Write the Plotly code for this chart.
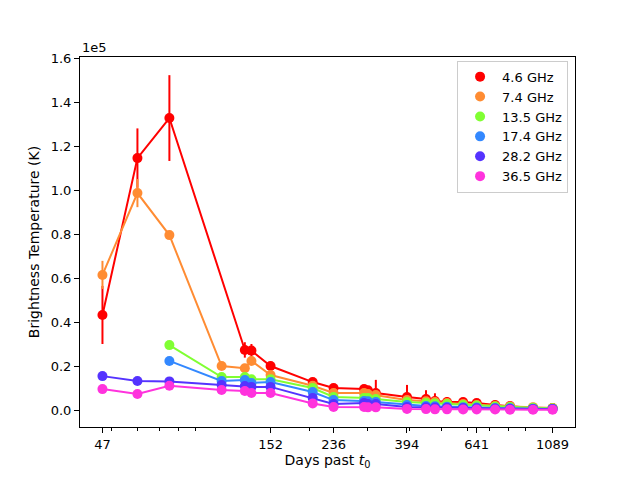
import plotly.graph_objects as go

# dias de observacion
dias = [47, 60, 75, 108, 127, 133, 152, 204, 236, 292, 300, 317,
        394, 450, 479, 521, 583, 641, 729, 809, 950, 1089]

frecuencias = ["4.6 GHz", "7.4 GHz", "13.5 GHz", "17.4 GHz", "28.2 GHz", "36.5 GHz"]
colores = ["#ff0000", "#ff8c33", "#80ff33", "#3388ff", "#5533ff", "#ff33dd"]

# temperatura de brillo (K), None = sin dato
t_46 = [43200, 114500, 132700, None, 27300, 27000, 20000, 12700, 10000, 9500, 9000, 7700,
        5900, 5000, 4100, 3600, 3600, 3200, 2300, 1800, 900, 900]
e_46 = [13200, 13500, 19500, 0, 3500, 3000, 2000, 1500, 1200, 1000, 1000, 6000,
        5500, 4000, 3500, 2300, 1000, 800, 500, 500, 300, 300]

t_74 = [61400, 98600, 79500, 20000, 19000, 22300, 15900, 11000, 7700, 7700, 7300, 6800,
        4500, 4000, 3600, 3200, 2700, 2300, 1800, 1600, 1300, 900]
e_74 = [6400, 6400, 0, 0, 0, 0, 0, 0, 0, 0, 0, 0,
        0, 0, 0, 0, 0, 0, 0, 0, 0, 0]

t_135 = [None, None, 29500, 15000, 15000, 14000, 14000, 10000, 5900, 5500, 5400, 5000,
         3600, 3200, 3000, 2700, 2300, 2000, 1600, 1400, 1000, 800]
t_174 = [None, None, 22300, 13200, 13600, 12300, 12700, 8200, 4500, 4100, 4000, 3600,
         2300, 1800, 1700, 1500, 1300, 1100, 900, 800, 600, 500]
t_282 = [15400, 13200, 13000, 11400, 10900, 10500, 10500, 5500, 2700, 3200, 2700, 2700,
         1400, 1200, 1100, 1000, 900, 800, 700, 600, 500, 400]
t_365 = [9500, 7300, 11000, 9100, 8600, 7700, 7700, 3000, 1400, 1400, 1200, 1200,
         500, 400, 300, 300, 200, 200, 200, 100, 100, 100]

series = [t_46, t_74, t_135, t_174, t_282, t_365]
errores = [e_46, e_74, None, None, None, None]

ticks_x = [47, 152, 236, 394, 641, 1089]
ticks_menores = [50, 60, 70, 80, 90, 200, 300, 400, 500, 600, 700, 800, 900]
ticks_y = [0, 20000, 40000, 60000, 80000, 100000, 120000, 140000, 160000]
etiquetas_y = ["0.0", "0.2", "0.4", "0.6", "0.8", "1.0", "1.2", "1.4", "1.6"]

fig = go.Figure()

for nombre, color, valores, err in zip(frecuencias, colores, series, errores):
    x = [d for d, v in zip(dias, valores) if v is not None]
    y = [v for v in valores if v is not None]
    # linea que une los puntos
    fig.add_trace(go.Scatter(x=x, y=y, mode="lines", line=dict(color=color, width=2),
                             showlegend=False, hoverinfo="skip"))
    err_y = None
    if err is not None:
        e = [ev for ev, v in zip(err, valores) if v is not None]
        err_y = dict(type="data", array=e, color=color, thickness=2, width=0)
    fig.add_trace(go.Scatter(x=x, y=y, mode="markers", name=nombre,
                             marker=dict(color=color, size=10),
                             error_y=err_y))

# la pagina tiene 8px de margen en el body, se compensa aqui
fig.update_layout(
    width=640, height=480,
    margin=dict(l=72, r=73, t=49, b=61),
    plot_bgcolor="white", paper_bgcolor="white",
    font=dict(family="DejaVu Sans", size=13, color="black"),
    legend=dict(x=0.986, y=0.99, xanchor="right", yanchor="top",
                bordercolor="#cccccc", borderwidth=1, bgcolor="white",
                font=dict(size=13), tracegroupgap=0, itemwidth=34),
    annotations=[dict(text="1e5", xref="paper", yref="paper", x=0, y=1,
                      xanchor="left", yanchor="bottom", showarrow=False,
                      font=dict(size=13))],
)

fig.update_xaxes(
    type="log", range=[1.604, 3.105],
    tickvals=ticks_x, ticktext=[str(t) for t in ticks_x],
    ticks="outside", ticklen=5, tickcolor="black",
    minor=dict(tickvals=ticks_menores, ticks="outside", ticklen=3, tickcolor="black"),
    showgrid=False, zeroline=False,
    showline=True, linecolor="black", linewidth=1, mirror=True,
    title=dict(text="Days past <i>t</i><sub>0</sub>", standoff=3, font=dict(size=14)),
)
fig.update_yaxes(
    range=[-7727, 160455],
    tickvals=ticks_y, ticktext=etiquetas_y,
    ticks="outside", ticklen=5, tickcolor="black",
    showgrid=False, zeroline=False,
    showline=True, linecolor="black", linewidth=1, mirror=True,
    title=dict(text="Brightness Temperature (K)", standoff=7, font=dict(size=14)),
)

fig.write_html("out.html")
